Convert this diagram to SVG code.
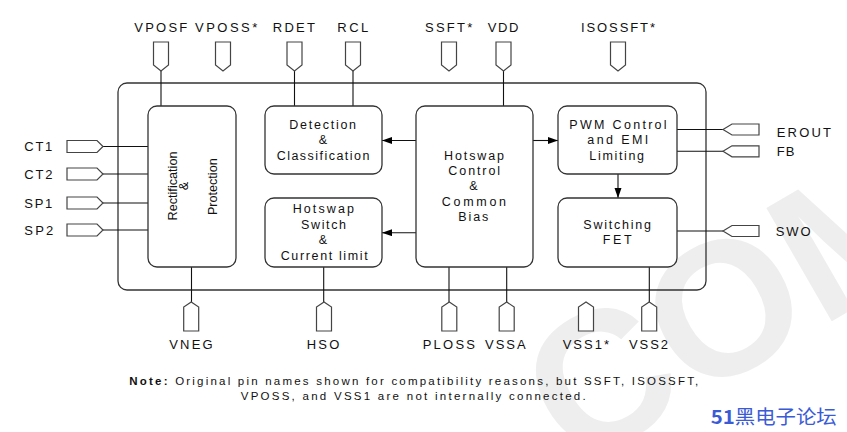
<svg xmlns="http://www.w3.org/2000/svg" width="847" height="432" viewBox="0 0 847 432">
<style>
.t{font-family:"Liberation Sans",Arial,sans-serif;fill:#111;}
.pl{font-size:13px;}
.bl{font-size:12.5px;text-anchor:middle;}
.pin{fill:#fff;stroke:#444;stroke-width:1.2;}
.blk{fill:#fff;stroke:#333;stroke-width:1.3;}
.w{fill:none;stroke:#111;stroke-width:1.1;}
.note{font-size:11.5px;}
</style>
<defs>
<polygon id="pd" class="pin" points="-7.5,0 7.5,0 7.5,23 0,29 -7.5,23"/>
<polygon id="pu" class="pin" points="-7.5,29 7.5,29 7.5,5 0,0 -7.5,5"/>
<polygon id="pr" class="pin" points="0,-6 30,-6 36,0 30,6 0,6"/>
<polygon id="pL" class="pin" points="36,-5.5 9,-5.5 0,0 9,5.5 36,5.5"/>
<marker id="ah" markerWidth="10" markerHeight="8" refX="10" refY="3.5" orient="auto" markerUnits="userSpaceOnUse">
<path d="M0,0 L10,3.5 L0,7 Z" fill="#000"/>
</marker>
</defs>

<!-- watermark -->
<text class="t" x="574" y="470" transform="rotate(-30 574 470)" style="font-size:190px;font-weight:bold;fill:#eeeeee">COM</text>

<rect id="outer" x="118" y="83" width="588" height="207" rx="9" class="blk" style="fill:none"/>

<g id="connectors">
<path class="w" d="M161,71V106 M294.5,71V106 M353,71V106 M503.5,71V106"/>
<path class="w" d="M103,146.5H148 M103,174H148 M103,203H148 M103,230H148"/>
<path class="w" d="M677,129.5H723 M677,151.3H723 M677,231H723"/>
<path class="w" d="M191.5,267V302 M323.7,267V302 M449,267V302 M506.7,267V302 M649.3,267V302"/>
<line class="w" x1="416" y1="140.5" x2="382" y2="140.5" marker-end="url(#ah)"/>
<line class="w" x1="416" y1="232.7" x2="382" y2="232.7" marker-end="url(#ah)"/>
<line class="w" x1="533" y1="140.5" x2="558" y2="140.5" marker-end="url(#ah)"/>
<line class="w" x1="618" y1="174" x2="618" y2="198" marker-end="url(#ah)"/>
</g>

<g id="rect-prot">
<rect class="blk" x="148" y="106" width="88" height="161" rx="9"/>
<text class="t" font-size="12.5" text-anchor="middle" transform="translate(177,186) rotate(-90)" textLength="69" lengthAdjust="spacingAndGlyphs">Rectification</text>
<text class="t" font-size="12.5" text-anchor="middle" transform="translate(188,186) rotate(-90)">&amp;</text>
<text class="t" font-size="12.5" text-anchor="middle" transform="translate(216.5,186.7) rotate(-90)" textLength="56.7" lengthAdjust="spacingAndGlyphs">Protection</text>
</g>

<g id="detection">
<rect class="blk" x="265" y="106" width="117" height="68" rx="9"/>
<text class="t bl" x="322.7" y="129.3" textLength="66.7">Detection</text>
<text class="t bl" x="323" y="144">&amp;</text>
<text class="t bl" x="323" y="160" textLength="92.7">Classification</text>
</g>

<g id="hotswap-switch">
<rect class="blk" x="265" y="198" width="117" height="69" rx="9"/>
<text class="t bl" x="323.3" y="213.3" textLength="61.3">Hotswap</text>
<text class="t bl" x="323.5" y="229" textLength="45">Switch</text>
<text class="t bl" x="323" y="244">&amp;</text>
<text class="t bl" x="324.2" y="260" textLength="87">Current limit</text>
</g>

<g id="hotswap-control">
<rect class="blk" x="416" y="106" width="117" height="161" rx="9"/>
<text class="t bl" x="474" y="160" textLength="60">Hotswap</text>
<text class="t bl" x="474.2" y="175" textLength="51.7">Control</text>
<text class="t bl" x="473.5" y="190">&amp;</text>
<text class="t bl" x="473.9" y="205.7" textLength="64.3">Common</text>
<text class="t bl" x="473.3" y="220.7" textLength="30">Bias</text>
</g>

<g id="pwm">
<rect class="blk" x="558" y="106" width="119" height="68" rx="9"/>
<text class="t bl" x="618" y="129.3" textLength="97.3">PWM Control</text>
<text class="t bl" x="617.8" y="144" textLength="61">and EMI</text>
<text class="t bl" x="616.7" y="160" textLength="54.7">Limiting</text>
</g>

<g id="switching-fet">
<rect class="blk" x="558" y="198" width="119" height="69" rx="9"/>
<text class="t bl" x="617.2" y="229.3" textLength="67.7">Switching</text>
<text class="t bl" x="617.2" y="244" textLength="29">FET</text>
</g>

<!-- top pins -->
<g id="pin-VPOSF"><use href="#pd" x="161" y="42"/><text class="t pl" x="134.3" y="31.7" textLength="53">VPOSF</text></g>
<g id="pin-VPOSS"><use href="#pd" x="223" y="42"/><text class="t pl" x="195" y="31.7" textLength="62.3">VPOSS*</text></g>
<g id="pin-RDET"><use href="#pd" x="294.5" y="42"/><text class="t pl" x="272.7" y="31.7" textLength="42.3">RDET</text></g>
<g id="pin-RCL"><use href="#pd" x="353" y="42"/><text class="t pl" x="337.3" y="31.7" textLength="31">RCL</text></g>
<g id="pin-SSFT"><use href="#pd" x="449" y="42"/><text class="t pl" x="425" y="31.7" textLength="47.3">SSFT*</text></g>
<g id="pin-VDD"><use href="#pd" x="503.5" y="42"/><text class="t pl" x="487.7" y="31.7" textLength="30.6">VDD</text></g>
<g id="pin-ISOSSFT"><use href="#pd" x="618" y="42"/><text class="t pl" x="581" y="31.7" textLength="74">ISOSSFT*</text></g>

<!-- left pins -->
<g id="pin-CT1"><use href="#pr" x="67" y="146.5"/><text class="t pl" x="24.3" y="151" textLength="28">CT1</text></g>
<g id="pin-CT2"><use href="#pr" x="67" y="174"/><text class="t pl" x="24.3" y="179.3" textLength="28.3">CT2</text></g>
<g id="pin-SP1"><use href="#pr" x="67" y="203"/><text class="t pl" x="24.3" y="208.3" textLength="28">SP1</text></g>
<g id="pin-SP2"><use href="#pr" x="67" y="230"/><text class="t pl" x="24.3" y="234.5" textLength="29">SP2</text></g>

<!-- right pins -->
<g id="pin-EROUT"><use href="#pL" x="723" y="129.5"/><text class="t pl" x="776.7" y="137.3" textLength="54.3">EROUT</text></g>
<g id="pin-FB"><use href="#pL" x="723" y="151.3"/><text class="t pl" x="776.7" y="156" textLength="17.7">FB</text></g>
<g id="pin-SWO"><use href="#pL" x="723" y="231"/><text class="t pl" x="775.7" y="236" textLength="35">SWO</text></g>

<!-- bottom pins -->
<g id="pin-VNEG"><use href="#pu" x="191.2" y="302"/><text class="t pl" x="169.3" y="349" textLength="43.3">VNEG</text></g>
<g id="pin-HSO"><use href="#pu" x="324" y="302"/><text class="t pl" x="306.7" y="349" textLength="32.7">HSO</text></g>
<g id="pin-PLOSS"><use href="#pu" x="449.3" y="302"/><text class="t pl" x="422.7" y="349" textLength="52.3">PLOSS</text></g>
<g id="pin-VSSA"><use href="#pu" x="506.7" y="302"/><text class="t pl" x="485" y="349" textLength="40.7">VSSA</text></g>
<g id="pin-VSS1"><use href="#pu" x="586" y="302"/><text class="t pl" x="562.7" y="349" textLength="46.3">VSS1*</text></g>
<g id="pin-VSS2"><use href="#pu" x="649.2" y="302"/><text class="t pl" x="629" y="349" textLength="39">VSS2</text></g>

<g id="note">
<text class="t note" x="129.3" y="385" textLength="569"><tspan font-weight="bold">Note:</tspan> Original pin names shown for compatibility reasons, but SSFT, ISOSSFT,</text>
<text class="t note" x="240.7" y="400" textLength="345">VPOSS, and VSS1 are not internally connected.</text>
</g>

<text x="710.7" y="424" textLength="126" lengthAdjust="spacingAndGlyphs" style="font-family:'Noto Sans CJK SC',sans-serif;font-size:19px;fill:#3b5bd6"><tspan font-weight="bold">51</tspan>黑电子论坛</text>
</svg>
